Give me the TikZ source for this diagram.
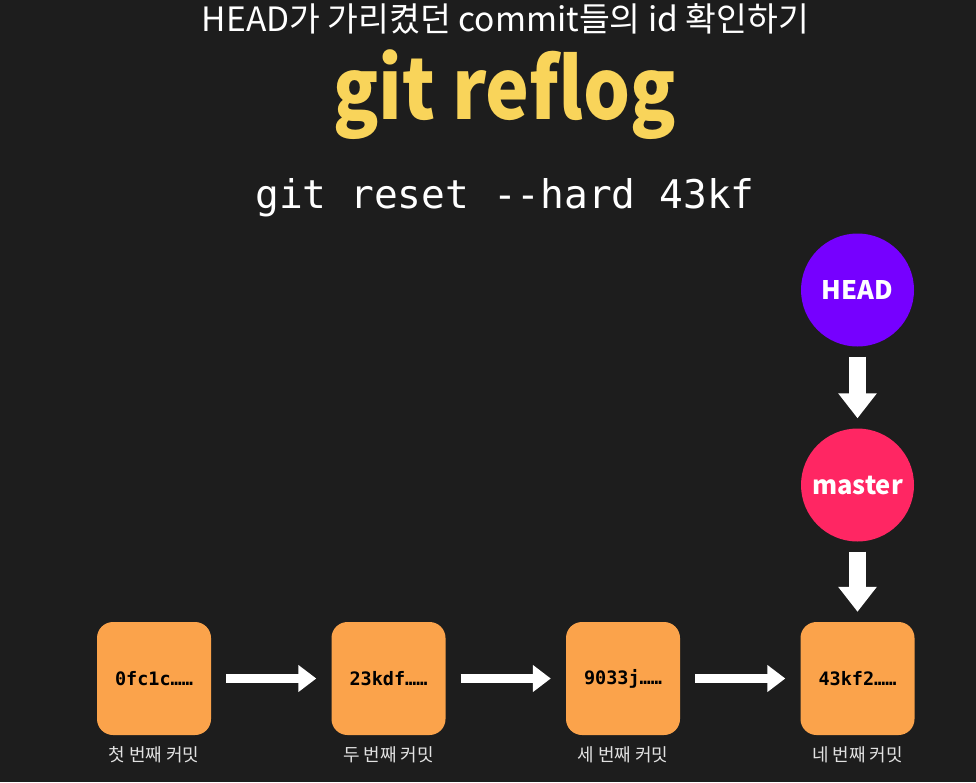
\documentclass[tikz,border=0pt]{standalone}
\usepackage{fontspec}
\setmainfont{Noto Sans CJK KR}
\newfontfamily\codefont{DejaVu Sans Mono}
\usetikzlibrary{positioning,arrows.meta}
\definecolor{bgdark}{RGB}{29,29,29}
\definecolor{boxorange}{RGB}{251,163,75}
\definecolor{reflogyellow}{RGB}{249,212,90}
\definecolor{headpurple}{RGB}{118,0,255}
\definecolor{masterpink}{RGB}{255,38,99}
\definecolor{captiongray}{RGB}{225,225,225}

\begin{document}
\begin{tikzpicture}[x=1pt,y=-1pt,
    commit/.style={fill=boxorange,rounded corners=16pt,minimum width=114pt,minimum height=113pt,
        inner sep=0pt,text=black,font=\codefont\bfseries\fontsize{18.5}{20}\selectfont},
    caption/.style={text=captiongray,inner sep=0pt,font=\fontsize{18}{20}\selectfont},
    pointer/.style={circle,minimum size=113pt,inner sep=0pt,text=white,
        font=\bfseries\fontsize{25.5}{28}\selectfont},
    hflow/.style={draw=white,line width=9pt,-{Triangle[length=18pt,width=26pt]},
        shorten <=15pt,shorten >=15pt},
    vflow/.style={draw=white,line width=17pt,-{Triangle[length=25pt,width=37pt]},
        shorten <=10pt,shorten >=10pt}]
    \fill[bgdark] (0,0) rectangle (976,782);
    \useasboundingbox (0,0) rectangle (976,782);
    % headings
    \node[text=white,font=\fontsize{33.5}{36}\selectfont] (title) at (505.5,19) {HEAD가 가리켰던 commit들의 id 확인하기};
    \node[text=reflogyellow,font=\bfseries\fontsize{84}{90}\selectfont] (cmd) at (504.5,95) {\scalebox{0.88}[1]{git reflog}};
    \node[text=white,font=\codefont\fontsize{39.5}{44}\selectfont] (reset) at (505,198) {git reset --hard 43kf};
    % commits
    \node[commit] (c1) at (154,678.5) {0fc1c……};
    \node[commit] (c2) at (388.5,678.5) {23kdf……};
    \node[commit] (c3) at (623,678.5) {9033j……};
    \node[commit] (c4) at (857.5,678.5) {43kf2……};
    \node[caption,below=11pt of c1] (l1) {첫 번째 커밋};
    \node[caption,below=11pt of c2] (l2) {두 번째 커밋};
    \node[caption,below=11pt of c3] (l3) {세 번째 커밋};
    \node[caption,below=11pt of c4] (l4) {네 번째 커밋};
    % pointers
    \node[pointer,fill=headpurple] (head) at (857.5,290) {HEAD};
    \node[pointer,fill=masterpink] (master) at (857.5,485) {master};
    \draw[hflow] (c1) -- (c2);
    \draw[hflow] (c2) -- (c3);
    \draw[hflow] (c3) -- (c4);
    \draw[vflow] (head) -- (master);
    \draw[vflow] (master) -- (c4);
\end{tikzpicture}
\end{document}
